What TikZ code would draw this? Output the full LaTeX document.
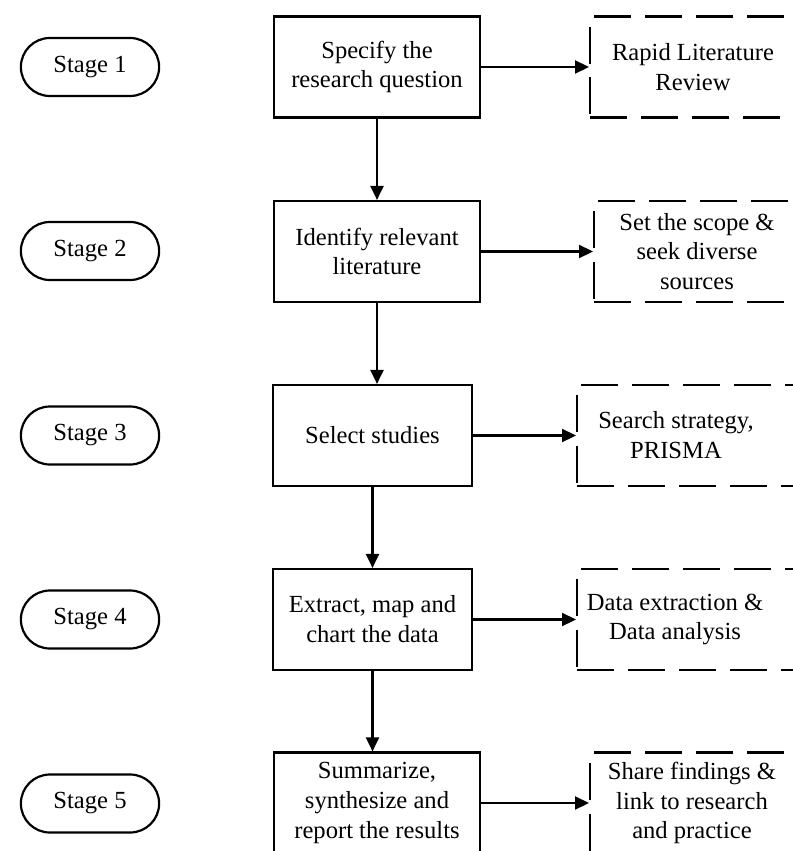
\documentclass[tikz,border=0pt]{standalone}
\usepackage{fontspec}
\setmainfont{Liberation Serif}
\usetikzlibrary{shapes,arrows.meta,positioning,calc}

\begin{document}
\begin{tikzpicture}[x=0.02cm,y=-0.02cm,line width=1.25pt,
	font=\fontsize{14}{17}\selectfont,
	stage/.style={draw,rounded rectangle,minimum width=3cm,minimum height=1.16cm},
	task/.style={draw,align=center,minimum height=2.02cm,inner sep=0pt},
	notebox/.style={draw,dash pattern=on 0.74cm off 0.28cm,minimum width=4.5cm,minimum height=2.02cm,anchor=west,inner sep=0pt},
	note/.style={align=center},
	arr/.style={-{Triangle[length=0.28cm,width=0.26cm]}}]
	
	\useasboundingbox (0,0) rectangle (793,851);
	
	\node[stage] (s1) at (90,67) {Stage 1};
	\node[stage] (s2) at (90,251) {Stage 2};
	\node[stage] (s3) at (90,435.5) {Stage 3};
	\node[stage] (s4) at (90,619.5) {Stage 4};
	\node[stage] (s5) at (90,803.5) {Stage 5};
	
	\node[task,minimum width=4.12cm] (b1) at (377,67) {Specify the\\research question};
	\node[task,minimum width=4.12cm] (b2) at (377,251.5) {Identify relevant\\literature};
	\node[task,minimum width=3.98cm] (b3) at (372.5,435.5) {Select studies};
	\node[task,minimum width=3.98cm] (b4) at (372.5,619.5) {Extract, map and\\chart the data};
	\node[task,minimum width=4.12cm] (b5) at (377,803) {Summarize,\\synthesize and\\report the results};
	
	\node[notebox] (r1) at (589,67) {};
	\node[notebox] (r2) at (593,251.5) {};
	\node[notebox] (r3) at (576,435.5) {};
	\node[notebox] (r4) at (576,619.5) {};
	\node[notebox] (r5) at (589,803) {};
	
	\node[note] (n1) at (693,67) {Rapid Literature\\Review};
	\node[note] (n2) at (697,251.5) {Set the scope \&\\seek diverse\\sources};
	\node[note] (n3) at (676,435.5) {Search strategy,\\PRISMA};
	\node[note] (n4) at (675,619.5) {Data extraction \&\\Data analysis};
	\node[note] (n5) at (692,803) {Share findings \&\\link to research\\and practice};
	
	\draw[arr] (b1) -- (b2);
	\draw[arr] (b2.south) -- (b2.south |- b3.north);
	\draw[arr] (b3) -- (b4);
	\draw[arr] (b4.south) -- (b4.south |- b5.north);
	
	\draw[arr] (b1.east) -- (b1.east -| r1.west);
	\draw[arr] (b2.east) -- (b2.east -| r2.west);
	\draw[arr] (b3.east) -- (b3.east -| r3.west);
	\draw[arr] (b4.east) -- (b4.east -| r4.west);
	\draw[arr] (b5.east) -- (b5.east -| r5.west);
	
\end{tikzpicture}
\end{document}
